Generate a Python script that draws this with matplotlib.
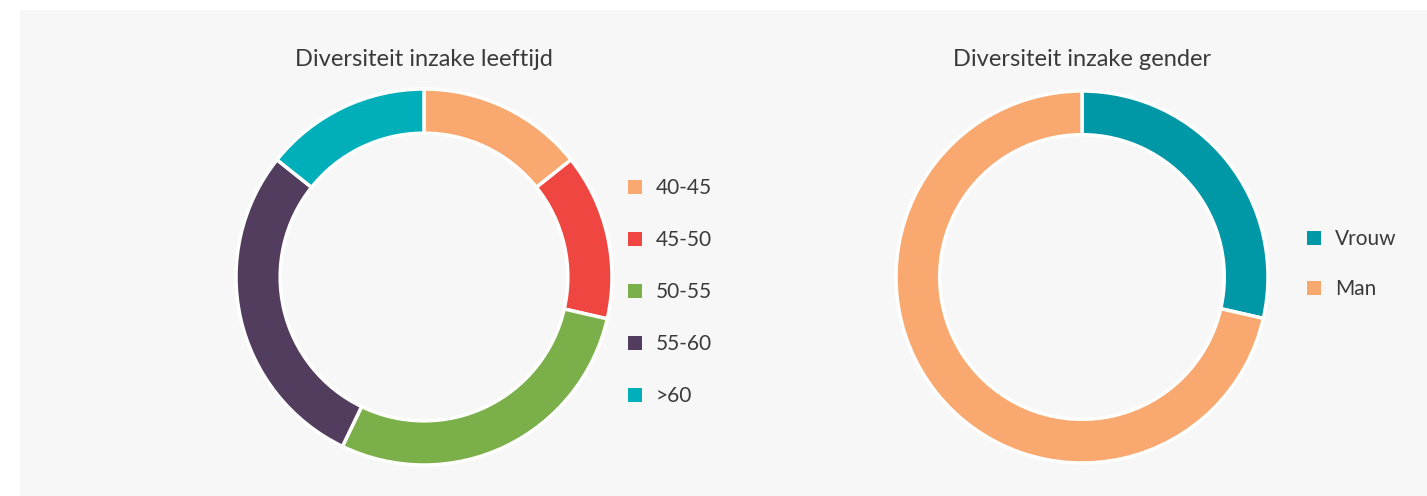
import matplotlib.pyplot as plt
from matplotlib.patches import Rectangle

# Datos
leeftijd_labels = ['40-45', '45-50', '50-55', '55-60', '>60']
leeftijd_values = [1, 1, 2, 2, 1]
leeftijd_colors = ['#F9A86F', '#EF4641', '#7BAF4A', '#533D5F', '#00AFB9']

gender_labels = ['Vrouw', 'Man']
gender_values = [2, 5]
gender_colors = ['#0098A6', '#F9A86F']

W, H = 1427, 496
plt.rcParams['font.family'] = ['Lato', 'DejaVu Sans']
fig = plt.figure(figsize=(W / 100, H / 100), dpi=100)
fig.patch.set_facecolor('white')
fig.patches.append(Rectangle((20 / W, 0), 1 - 20 / W, (H - 10) / H,
                             transform=fig.transFigure, facecolor='#F7F7F7',
                             edgecolor='none', zorder=-5))


def donut(cx, cy, r, values, colors, labels, title, leg_x, leg_y, spacing):
    ax = fig.add_axes([(cx - r) / W, (H - cy - r) / H, 2 * r / W, 2 * r / H])
    ax.set_zorder(2)
    wedges, _ = ax.pie(values, colors=colors, startangle=90, counterclock=False,
                       radius=1, wedgeprops=dict(width=0.235, edgecolor='white', linewidth=2.5))
    ax.set_xlim(-1, 1)
    ax.set_ylim(-1, 1)
    ax.set_aspect('equal')
    fig.text(cx / W, 1 - 60 / H, title, ha='center', va='center',
             fontsize=17, color='#3a3a3a')
    handles = [Rectangle((0, 0), 1, 1, facecolor=c, edgecolor='none') for c in colors]
    fig.legend(handles, labels, loc='upper left',
               bbox_to_anchor=(leg_x / W, 1 - leg_y / H),
               frameon=False, fontsize=15, labelcolor='#3a3a3a',
               handlelength=0.65, handleheight=0.65, handletextpad=0.7,
               labelspacing=spacing, borderpad=0, borderaxespad=0)
    return ax


donut(424, 277, 188, leeftijd_values, leeftijd_colors, leeftijd_labels,
      'Diversiteit inzake leeftijd', 628, 178, 1.54)
donut(1082, 277, 186, gender_values, gender_colors, gender_labels,
      'Diversiteit inzake gender', 1307, 229, 1.44)

fig.savefig('out.png', dpi=100, facecolor=fig.get_facecolor())
